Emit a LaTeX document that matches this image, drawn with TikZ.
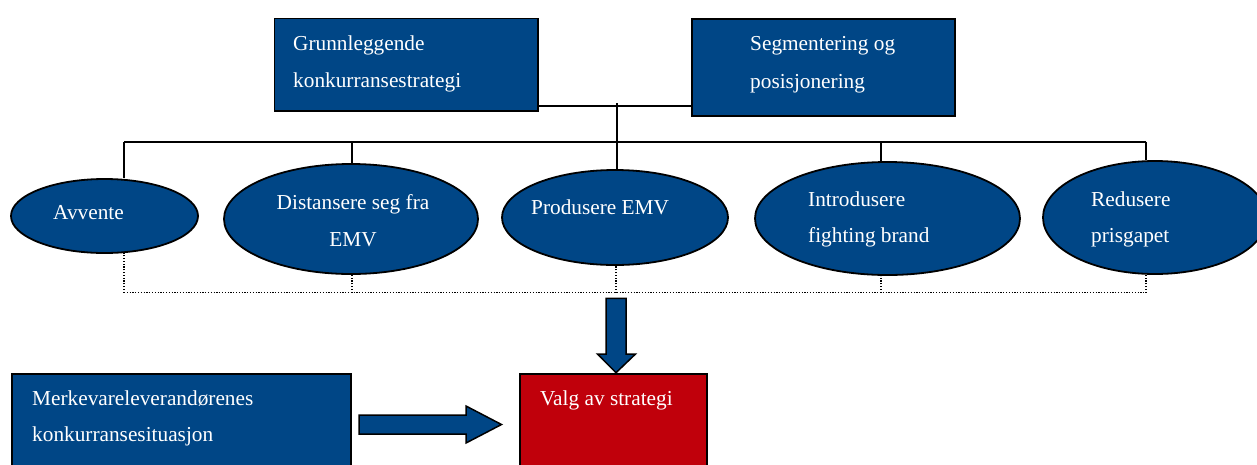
\documentclass[tikz,border=0pt]{standalone}
\usepackage{fontspec}
\setmainfont{Liberation Serif}
\usetikzlibrary{shapes.geometric}
\definecolor{nblue}{RGB}{0,70,134}
\definecolor{nred}{RGB}{192,0,11}
\begin{document}
\begin{tikzpicture}[x=1pt,y=-1pt,
  box/.style={draw=black,line width=1.8pt,fill=nblue,inner sep=0pt,anchor=north west},
  redbox/.style={box,fill=nred},
  ell/.style={ellipse,draw=black,line width=1.8pt,fill=nblue,inner sep=0pt},
  lbl/.style={text=white,anchor=base west,inner sep=0pt,font=\fontsize{21.3}{26}\selectfont},
  clbl/.style={lbl,anchor=base},
  conn/.style={line width=1.8pt},
  dots/.style={line width=1.4pt,dash pattern=on 1.2pt off 1.6pt},
  barrow/.style={fill=nblue,draw=black,line width=1.5pt,line join=miter}]
\clip (0,0) rectangle (1257,464);
% top boxes
\node[box,minimum width=263.5pt,minimum height=92.5pt] (b1) at (273.5,17.5) {};
\node[box,minimum width=263pt,minimum height=97pt] (b2) at (691,18) {};
\node[lbl] (t1a) at (293,50) {Grunnleggende};
\node[lbl] (t1b) at (293,87) {konkurransestrategi};
\node[lbl] (t2a) at (750,50) {Segmentering og};
\node[lbl] (t2b) at (750,88) {posisjonering};
% ellipses
\node[ell,minimum width=187pt,minimum height=74pt] (avv) at (104.5,216) {};
\node[ell,minimum width=254pt,minimum height=110pt] (dist) at (351,219) {};
\node[ell,minimum width=226pt,minimum height=95pt] (prod) at (615,217.5) {};
\node[ell,minimum width=265pt,minimum height=113pt] (intro) at (887.5,218.5) {};
\node[ell,minimum width=224pt,minimum height=113pt] (red) at (1155,217.5) {};
\node[lbl] (ta) at (53,219) {Avvente};
\node[clbl] (td1) at (353,209) {Distansere seg fra};
\node[clbl] (td2) at (353,246) {EMV};
\node[lbl] (tp) at (531,214) {Produsere EMV};
\node[lbl] (ti1) at (808,206.5) {Introdusere};
\node[lbl] (ti2) at (808,242) {fighting brand};
\node[lbl] (tr1) at (1091,206.5) {Redusere};
\node[lbl] (tr2) at (1091,242) {prisgapet};
% bottom boxes
\node[box,minimum width=339pt,minimum height=110pt] (merk) at (11,373) {};
\node[redbox,minimum width=187pt,minimum height=110pt] (valg) at (519,373) {};
\node[lbl] (tm1) at (32,405) {Merkevareleverandørenes};
\node[lbl] (tm2) at (32,441.5) {konkurransesituasjon};
\node[lbl] (tv) at (540,405) {Valg av strategi};
% top connectors
\coordinate (j) at (617,105.7);
\coordinate (jt) at (617,103);
\draw[conn] (b1.east |- j) -- (b2.west |- j);
\draw[conn] (jt) -- (prod.north -| jt);
\coordinate (s1) at (124,141.7);
\coordinate (s2) at (352,141.7);
\coordinate (s4) at (881,141.7);
\coordinate (s5) at (1146,141.7);
\draw[conn] (s1) -- (s5);
\draw[conn] (s1) -- (s1 |- avv.north);
\draw[conn] (s2) -- (s2 |- dist.north);
\draw[conn] (s4) -- (s4 |- intro.north);
\draw[conn] (s5) -- (s5 |- red.north);
% dotted connectors
\coordinate (d1) at (124,292.7);
\coordinate (d2) at (352,292.7);
\coordinate (d3) at (616,292.7);
\coordinate (d4) at (881,292.7);
\coordinate (d5) at (1146,292.7);
\draw[dots] (d1) -- (d5);
\draw[dots] (d1) -- (124,253);
\draw[dots] (d2) -- (dist.south -| d2);
\draw[dots] (d3) -- (prod.south -| d3);
\draw[dots] (d4) -- (intro.south -| d4);
\draw[dots] (d5) -- (1146,274);
% block arrows
\draw[barrow] (606,298.3) -- (626,298.3) -- (626,354) -- (635.5,354) -- (616,372.7)
  -- (597.5,354) -- (606,354) -- cycle;
\draw[barrow] (359,415) -- (466,415) -- (466,406) -- (501.5,424.5) -- (466,443)
  -- (466,434) -- (359,434) -- cycle;
\end{tikzpicture}
\end{document}
